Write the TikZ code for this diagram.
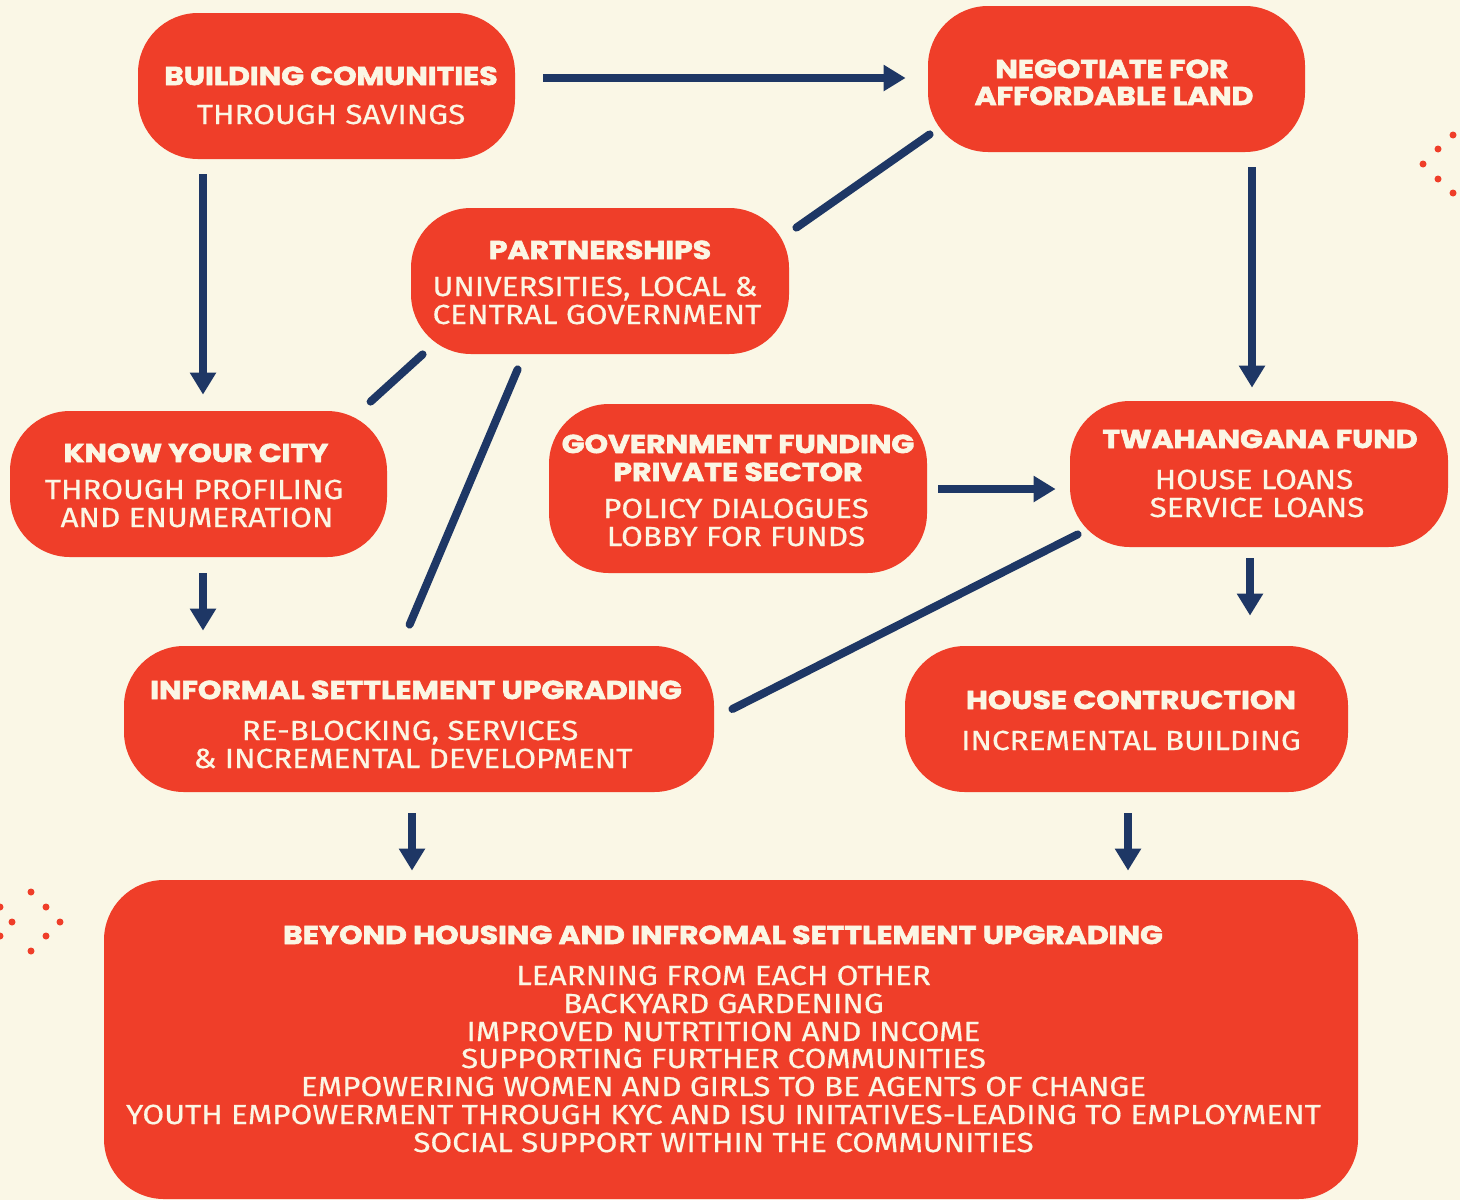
\documentclass[tikz,border=0pt]{standalone}
\usepackage{fontspec}
\setmainfont{Fira Sans}[FakeStretch=1.14, FakeBold=0.5]
\newfontfamily\hf{Poppins}[FakeStretch=1.16, BoldFeatures={FakeBold=2.5}]
\usetikzlibrary{arrows.meta}
\definecolor{bg}{HTML}{FAF7E6}
\definecolor{rd}{HTML}{EF3E29}
\definecolor{nv}{HTML}{1E3765}
\definecolor{cr}{HTML}{FBF6E4}
\tikzset{
  box/.style={fill=rd, rounded corners=30pt, inner sep=0pt},
  hd/.style={anchor=base, inner sep=0pt, text=cr, font=\hf\bfseries\fontsize{12.9pt}{14pt}\selectfont},
  sb/.style={anchor=base, inner sep=0pt, text=cr, font=\fontsize{13.8pt}{14pt}\selectfont},
  arr/.style={draw=nv, line width=4pt, -{Triangle[width=12.5pt,length=11pt]}},
  lnk/.style={draw=nv, line width=4pt, line cap=round},
  dotc/.style={fill=rd}
}
\begin{document}
\begin{tikzpicture}[x=0.5pt,y=-0.5pt]
\fill[bg] (0,0) rectangle (1460,1200);
\useasboundingbox (0,0) rectangle (1460,1200);
% dots
\foreach \p in {(1453,135),(1438,149),(1423,164),(1438,179),(1453,193),
  (31,892),(0,907),(46,907),(12,922),(60,922),(0,936),(46,936),(31,951)}
  \fill[dotc] \p circle[radius=1.75pt];
% boxes
\node[box, minimum width=188.5pt, minimum height=73pt] (b1) at (326.5,86) {};
\node[box, minimum width=188.5pt, minimum height=73pt] (b2) at (1116.5,79) {};
\node[box, minimum width=189pt, minimum height=73pt] (b3) at (600,281) {};
\node[box, minimum width=188.5pt, minimum height=73pt] (b4) at (198.5,484) {};
\node[box, minimum width=189pt, minimum height=84.5pt] (b5) at (738,488.5) {};
\node[box, minimum width=189pt, minimum height=73pt] (b6) at (1259,474) {};
\node[box, minimum width=295pt, minimum height=73pt] (b7) at (419,719) {};
\node[box, minimum width=221.5pt, minimum height=73pt] (b8) at (1126.5,719) {};
\node[box, minimum width=627pt, minimum height=159.5pt] (b9) at (731,1039.5) {};
% texts
\node[hd] (t1a) at (331,85) {BUILDING COMUNITIES};
\node[sb] (t1b) at (331,124) {THROUGH SAVINGS};
\node[hd] (t2a) at (1112,78) {NEGOTIATE FOR};
\node[hd] (t2b) at (1114,105) {AFFORDABLE LAND};
\node[hd] (t3a) at (600,259) {PARTNERSHIPS};
\node[sb] (t3b) at (595,296) {UNIVERSITIES, LOCAL \&};
\node[sb] (t3c) at (597,324) {CENTRAL GOVERNMENT};
\node[hd] (t4a) at (196,462) {KNOW YOUR CITY};
\node[sb] (t4b) at (194,499) {THROUGH PROFILING};
\node[sb] (t4c) at (197,527) {AND ENUMERATION};
\node[hd] (t5a) at (738,453) {GOVERNMENT FUNDING};
\node[hd] (t5b) at (738,481) {PRIVATE SECTOR};
\node[sb] (t5c) at (736,518) {POLICY DIALOGUES};
\node[sb] (t5d) at (736,546) {LOBBY FOR FUNDS};
\node[hd] (t6a) at (1260,448) {TWAHANGANA FUND};
\node[sb] (t6b) at (1254,489) {HOUSE LOANS};
\node[sb] (t6c) at (1257,517) {SERVICE LOANS};
\node[hd] (t7a) at (416,699) {INFORMAL SETTLEMENT UPGRADING};
\node[sb] (t7b) at (410,740) {RE-BLOCKING, SERVICES};
\node[sb] (t7c) at (413,768) {\& INCREMENTAL DEVELOPMENT};
\node[hd] (t8a) at (1131,709) {HOUSE CONTRUCTION};
\node[sb] (t8b) at (1131,750) {INCREMENTAL BUILDING};
\node[hd] (t9a) at (723,944) {BEYOND HOUSING AND INFROMAL SETTLEMENT UPGRADING};
\node[sb] (t9b) at (723.5,985) {LEARNING FROM EACH OTHER};
\node[sb] (t9c) at (723.5,1013) {BACKYARD GARDENING};
\node[sb] (t9d) at (723.5,1041) {IMPROVED NUTRTITION AND INCOME};
\node[sb] (t9e) at (723.5,1068) {SUPPORTING FURTHER COMMUNITIES};
\node[sb] (t9f) at (723.5,1096) {EMPOWERING WOMEN AND GIRLS TO BE AGENTS OF CHANGE};
\node[sb] (t9g) at (723.5,1124) {YOUTH EMPOWERMENT THROUGH KYC AND ISU INITATIVES-LEADING TO EMPLOYMENT};
\node[sb] (t9h) at (723.5,1152) {SOCIAL SUPPORT WITHIN THE COMMUNITIES};
% arrows
\draw[arr, shorten <=14pt, shorten >=11pt] (b1.east |- 0,78) -- (b2.west |- 0,78);
\draw[arr, shorten <=7.5pt, shorten >=8pt] (b1.south -| 203,0) -- (b4.north -| 203,0);
\draw[arr, shorten <=7.5pt, shorten >=6.5pt] (b2.south -| 1252,0) -- (b6.north -| 1252,0);
\draw[arr, shorten <=8pt, shorten >=7.5pt] (b4.south -| 203,0) -- (b7.north -| 203,0);
\draw[arr, shorten <=5.5pt, shorten >=7pt] (b5.east |- 0,489) -- (b6.west |- 0,489);
\draw[arr, shorten <=5.5pt, shorten >=15pt] (b6.south -| 1250,0) -- (b8.north -| 1250,0);
\draw[arr, shorten <=10.5pt, shorten >=4.5pt] (b7.south -| 412,0) -- (b9.north -| 412,0);
\draw[arr, shorten <=10.5pt, shorten >=4.5pt] (b8.south -| 1128,0) -- (b9.north -| 1128,0);
% links
\draw[lnk] ([shift={(7,20)}]b3.north east) -- ([shift={(2,-18)}]b2.south west);
\draw[lnk] ([shift={(361,-9)}]b4.north west) -- ([shift={(12,0)}]b3.south west);
\draw[lnk] ([shift={(107,15)}]b3.south west) -- ([shift={(286,-21)}]b7.north west);
\draw[lnk] ([shift={(8,-13)}]b6.south west) -- ([shift={(18,-10)}]b7.east);
\end{tikzpicture}
\end{document}
